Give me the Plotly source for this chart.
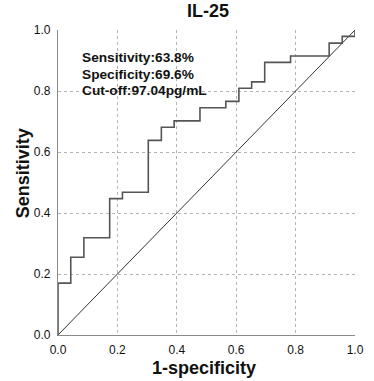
import plotly.graph_objects as go

# ROC curve corner points (1-specificity, sensitivity), drawn as steps
fpr = [0.0, 0.0, 0.043, 0.087, 0.174, 0.217, 0.304, 0.348, 0.391, 0.478,
       0.565, 0.609, 0.652, 0.696, 0.783, 0.913, 0.957, 1.0]
tpr = [0.0, 0.170, 0.255, 0.319, 0.447, 0.468, 0.638, 0.681, 0.702, 0.745,
       0.766, 0.809, 0.830, 0.894, 0.915, 0.957, 0.979, 1.0]

ref_x = [0.0, 1.0]
ref_y = [0.0, 1.0]

tick_vals = [0.0, 0.2, 0.4, 0.6, 0.8, 1.0]
tick_text = ["0.0", "0.2", "0.4", "0.6", "0.8", "1.0"]

stats_lines = ["Sensitivity:63.8%", "Specificity:69.6%", "Cut-off:97.04pg/mL"]
stats_y = [0.909, 0.854, 0.802]

title_text = "IL-25"
x_title = "1-specificity"
y_title = "Sensitivity"

FONT = "Liberation Sans, Arial, sans-serif"

fig = go.Figure()
fig.add_trace(go.Scatter(x=ref_x, y=ref_y, mode="lines",
                         line=dict(color="#333333", width=1), hoverinfo="skip",
                         showlegend=False))
fig.add_trace(go.Scatter(x=fpr, y=tpr, mode="lines", line_shape="hv",
                         line=dict(color="#555555", width=1.6),
                         showlegend=False))

axis_common = dict(
    range=[0, 1], tickvals=tick_vals, ticktext=tick_text,
    showgrid=True, gridcolor="#b4b4b4", griddash="dot", gridwidth=1,
    showline=True, linecolor="#8a8a8a", linewidth=1.2,
    zeroline=False, ticks="", tickfont=dict(family=FONT, size=12, color="#111111"),
    fixedrange=True,
)
fig.update_xaxes(**axis_common, ticklabelstandoff=3)
fig.update_yaxes(**axis_common, ticklabelstandoff=4)

ann = []
for txt, yy in zip(stats_lines, stats_y):
    ann.append(dict(x=0.074, y=yy, xref="x", yref="y", text=f"<b>{txt}</b>",
                    showarrow=False, xanchor="left", yanchor="middle",
                    font=dict(family=FONT, size=13.7, color="#111111")))
ann.append(dict(x=0.505, y=1.0, xref="paper", yref="paper", yshift=19,
                text=f"<b>{title_text}</b>", showarrow=False,
                xanchor="center", yanchor="middle",
                font=dict(family=FONT, size=18, color="#111111")))
ann.append(dict(x=0.49, y=0.0, xref="paper", yref="paper", yshift=-33,
                text=f"<b>{x_title}</b>", showarrow=False,
                xanchor="center", yanchor="middle",
                font=dict(family=FONT, size=18, color="#111111")))
ann.append(dict(x=0.0, y=0.53, xref="paper", yref="paper", xshift=-35,
                text=f"<b>{y_title}</b>", showarrow=False, textangle=-90,
                xanchor="center", yanchor="middle",
                font=dict(family=FONT, size=18, color="#111111")))

fig.update_layout(
    width=374, height=381,
    margin=dict(l=58, r=10, t=30, b=46),
    plot_bgcolor="white", paper_bgcolor="white",
    annotations=ann,
    font=dict(family=FONT),
)

fig.write_html("out.html", config={"displayModeBar": False},
               post_script="document.body.style.margin='0';document.body.style.overflow='hidden';")
